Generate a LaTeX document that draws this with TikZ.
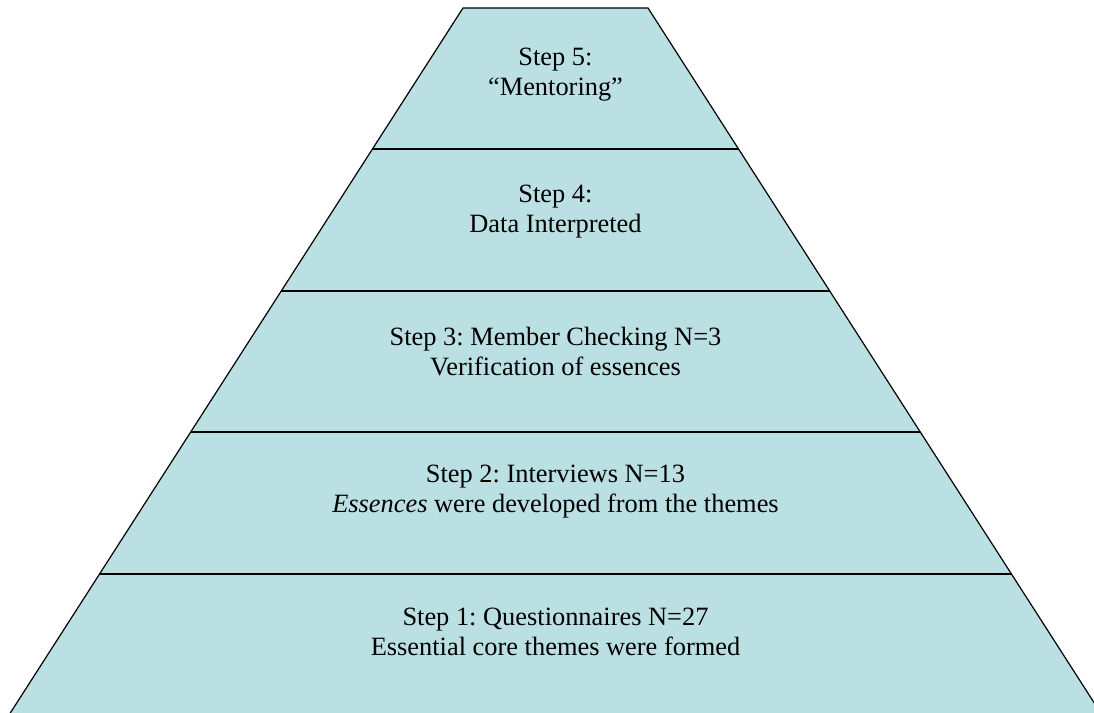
\documentclass[tikz,border=0pt]{standalone}
\usepackage{fontspec}
\setmainfont{Liberation Serif}
\usetikzlibrary{calc}
\definecolor{layerfill}{RGB}{187,224,227}
\frenchspacing
\tikzset{
  steptext/.style={align=center, font=\fontsize{13.2}{15}\selectfont, inner sep=0pt},
  layerline/.style={draw=black, line width=1pt}
}
\begin{document}
\begin{tikzpicture}[x=0.5pt, y=-0.5pt]
        \useasboundingbox (0,0) rectangle (1094,713);
        \clip (0,0) rectangle (1094,713);
        % corners of the pyramid
        \coordinate (tl) at (463,8);
        \coordinate (tr) at (648,8);
        \coordinate (bl) at (9,715);
        \coordinate (br) at (1102,715);

        \path[draw=black, line width=0.6pt, fill=layerfill] (bl) -- (tl) -- (tr) -- (br) -- cycle;
        \foreach \k in {1,...,4}
            \path[layerline] ($(tl)!\k/5!(bl)$) -- ($(tr)!\k/5!(br)$);

        \node[steptext] (step5) at (555.5,75) {Step 5:\\“Mentoring”};
        \node[steptext] (step4) at (555.5,212) {Step 4:\\Data Interpreted};
        \node[steptext] (step3) at (555.5,352) {Step 3: Member Checking N=3\\Verification of essences};
        \node[steptext] (step2) at (555.5,492) {Step 2: Interviews N=13\\\textit{Essences} were developed from the themes};
        \node[steptext] (step1) at (555.5,632) {Step 1: Questionnaires N=27\\Essential core themes were formed};
    \end{tikzpicture}
\end{document}
